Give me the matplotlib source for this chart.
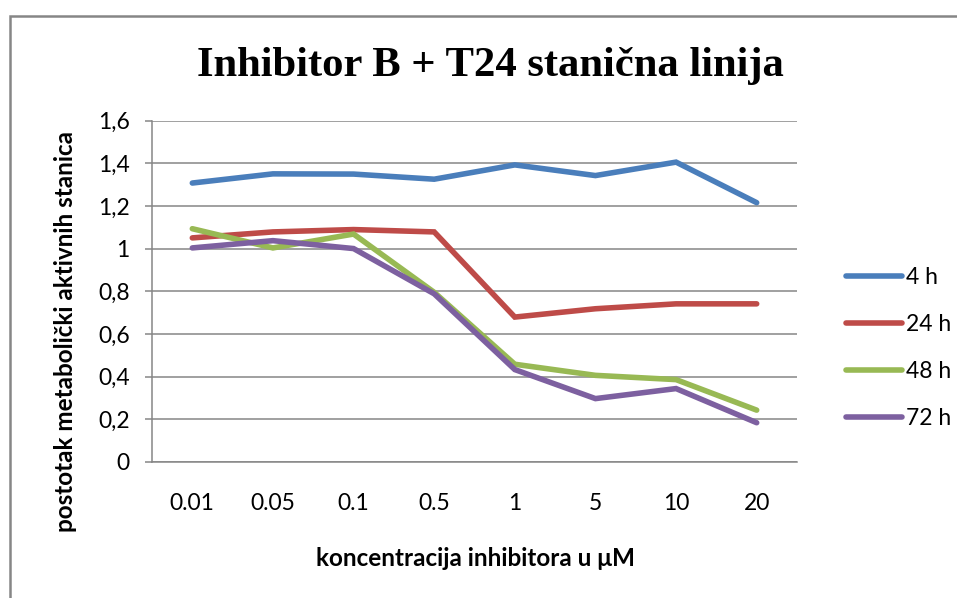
import matplotlib
matplotlib.use('Agg')
import matplotlib.pyplot as plt
from matplotlib.patches import Rectangle

concentrations = ["0.01", "0.05", "0.1", "0.5", "1", "5", "10", "20"]
h4 = [1.307, 1.350, 1.349, 1.325, 1.392, 1.342, 1.405, 1.215]
h24 = [1.050, 1.078, 1.089, 1.078, 0.679, 0.718, 0.741, 0.741]
h48 = [1.093, 1.003, 1.068, 0.795, 0.458, 0.406, 0.386, 0.243]
h72 = [1.003, 1.037, 1.000, 0.788, 0.433, 0.297, 0.344, 0.184]
series = [("4 h", h4, "#4A7EBB"), ("24 h", h24, "#BE4B48"),
          ("48 h", h48, "#98B954"), ("72 h", h72, "#7D60A0")]
yticks = [0, 0.2, 0.4, 0.6, 0.8, 1.0, 1.2, 1.4, 1.6]
ytick_labels = ["0", "0,2", "0,4", "0,6", "0,8", "1", "1,2", "1,4", "1,6"]

W, H = 957, 598
fig = plt.figure(figsize=(W / 100, H / 100), dpi=100)
sans = "Lato"
grid_col = "#868686"
tick_fs = 16.5

# outer chart frame (right/bottom edges run off the picture)
fig.patches.append(Rectangle((9.5 / W, -0.1), 1.2, (H - 15.5) / H + 0.1,
                             transform=fig.transFigure, fill=False,
                             edgecolor=grid_col, linewidth=1.8))

ax = fig.add_axes([152 / W, (H - 462) / H, 645 / W, 341.5 / H])
x = range(len(concentrations))
for label, vals, col in series:
    ax.plot(x, vals, color=col, linewidth=4, label=label,
            solid_capstyle='round', solid_joinstyle='miter')

ax.set_xlim(-0.5, len(concentrations) - 0.5)
ax.set_ylim(0, 1.6)
ax.set_yticks(yticks)
ax.set_yticklabels(ytick_labels, fontsize=tick_fs, family=sans)
ax.set_xticks(list(x))
ax.set_xticklabels(concentrations, fontsize=tick_fs, family=sans)
ax.tick_params(axis='y', length=5, width=1.1, color=grid_col, pad=11)
ax.tick_params(axis='x', length=0, pad=22)
ax.grid(axis='y', color=grid_col, linewidth=1.1)
ax.set_axisbelow(True)
for s in ["top", "right"]:
    ax.spines[s].set_visible(False)
for s in ["left", "bottom"]:
    ax.spines[s].set_color(grid_col)
    ax.spines[s].set_linewidth(1.1)

fig.text(490 / W, 1 - 66 / H, "Inhibitor B + T24 stanična linija",
         fontsize=30.7, fontweight='bold', family="Liberation Serif",
         ha='center', va='center')
fig.text(66 / W, 1 - 332 / H, "postotak metabolički aktivnih stanica",
         rotation=90, fontsize=17.5, fontweight='bold', family=sans,
         ha='center', va='center')
fig.text(476 / W, 1 - 558 / H, "koncentracija inhibitora u μM",
         fontsize=17.5, fontweight='bold', family=sans,
         ha='center', va='center')

fig.legend(loc='upper left', bbox_to_anchor=(828 / W, 1 - 249 / H),
           frameon=False, handlelength=2.45, handletextpad=0.15,
           labelspacing=1.13, borderpad=0.3,
           prop={'family': sans, 'size': tick_fs})

plt.savefig("out.png", dpi=100)
plt.close()
